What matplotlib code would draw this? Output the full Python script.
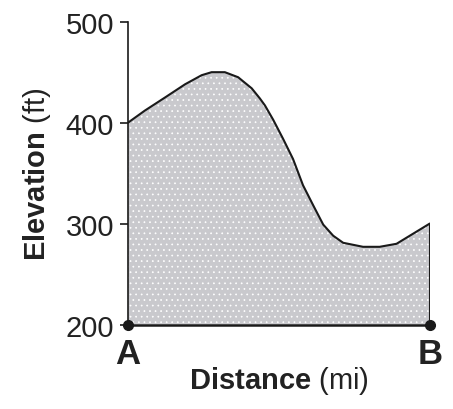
import matplotlib
matplotlib.use("Agg")
import matplotlib.pyplot as plt

# elevation profile (distance on a 0-10 scale from A to B)
distance = [0, 0.56, 1.23, 1.89, 2.44, 2.77, 3.21, 3.65, 4.10, 4.37, 4.54,
            4.81, 5.14, 5.47, 5.80, 6.14, 6.47, 6.80, 7.13, 7.79, 8.34,
            8.90, 9.45, 10]
elevation = [400, 412, 425, 438, 447, 450, 450, 445, 434, 424, 417,
             403, 384, 364, 338, 318, 299, 288, 281, 277, 277,
             280, 290, 300]
endpoints = [0, 10]
endpoint_labels = ["A", "B"]
yticks = [200, 300, 400, 500]

plt.rcParams["font.family"] = ["Liberation Sans", "DejaVu Sans"]
plt.rcParams["mathtext.fontset"] = "custom"
plt.rcParams["mathtext.rm"] = "Liberation Sans"
plt.rcParams["mathtext.bf"] = "Liberation Sans:bold"
plt.rcParams["hatch.linewidth"] = 0.5

fig = plt.figure(figsize=(4.53, 4.10), dpi=100)
ax = fig.add_axes([0.2826, 0.206, 0.666, 0.7386])

ink = "#1a1a1a"
ax.fill_between(distance, elevation, 200, facecolor="#c9c9cd",
                edgecolor="white", hatch="...", linewidth=0)
ax.plot(distance, elevation, color=ink, lw=1.5, solid_joinstyle="round",
        solid_capstyle="round")
ax.plot([endpoints[1], endpoints[1]], [200, elevation[-1]], color=ink, lw=1.5)
ax.plot(endpoints, [200, 200], color=ink, lw=1.8, marker="o", ms=7,
        clip_on=False, zorder=5)

ax.set_xlim(endpoints[0], endpoints[1])
ax.set_ylim(200, 500)
ax.set_yticks(yticks)
ax.set_xticks(endpoints)
ax.set_xticklabels(endpoint_labels, fontweight="bold")

for side in ["top", "right", "bottom"]:
    ax.spines[side].set_visible(False)
ax.spines["left"].set_color(ink)
ax.spines["left"].set_linewidth(1.2)

ax.tick_params(axis="y", direction="out", length=6, width=1.2, color=ink,
               pad=4, labelsize=21, labelcolor="#222222")
ax.tick_params(axis="x", length=0, pad=9, labelsize=25, labelcolor="#222222")

ax.set_ylabel(r"$\mathbf{Elevation}$ (ft)", fontsize=21, color="#222222")
ax.yaxis.set_label_coords(-0.25, 0.5)
ax.set_xlabel(r"$\mathbf{Distance}$ (mi)", fontsize=21, color="#222222")
ax.xaxis.set_label_coords(0.5, -0.13)

fig.savefig("out.png", dpi=100)
